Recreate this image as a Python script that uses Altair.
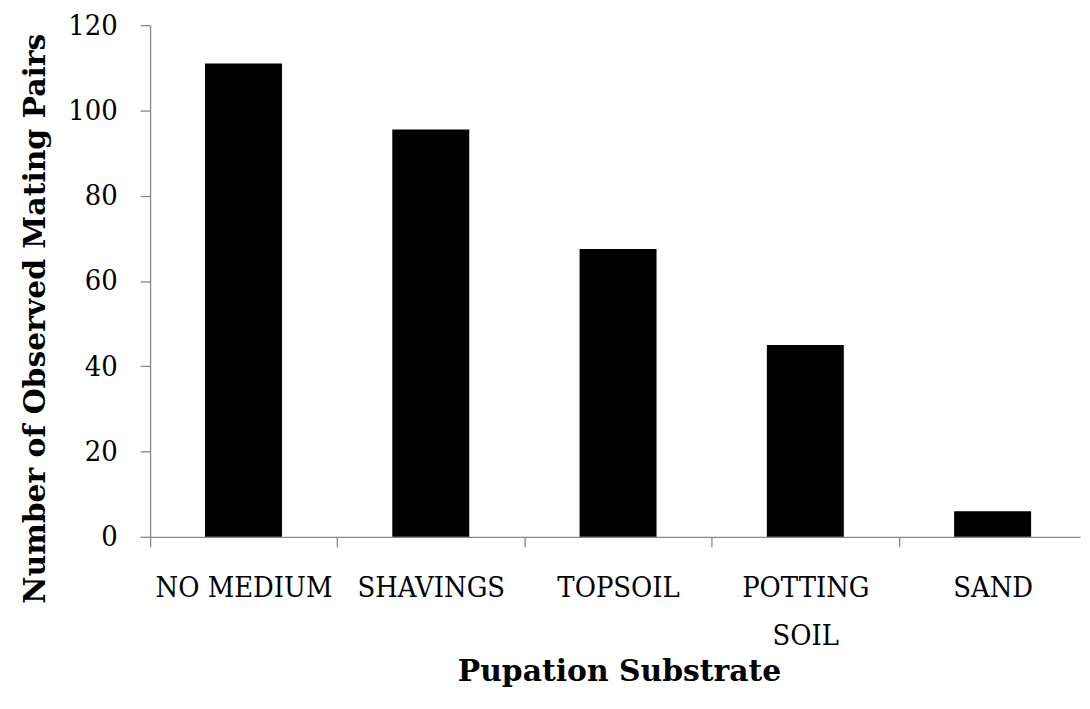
import altair as alt
import pandas as pd

categories = ["NO MEDIUM", "SHAVINGS", "TOPSOIL", "POTTING SOIL", "SAND"]
pairs = [111, 95.5, 67.5, 45, 6]
y_ticks = [0, 20, 40, 60, 80, 100, 120]

df = pd.DataFrame({"substrate": categories, "pairs": pairs})

FONT = "DejaVu Serif Condensed"
TITLE_FONT = "DejaVu Serif"
GRAY = "#868686"

# band layout: step ~188.5 px, bar ~77.5 px
P_INNER = 0.589
STEP = 188.5
HALF_GAP = P_INNER * STEP / 2

chart = (
    alt.Chart(df)
    .mark_bar(color="black")
    .encode(
        x=alt.X(
            "substrate:N",
            sort=categories,
            scale=alt.Scale(paddingInner=P_INNER, paddingOuter=0.2772, align=0.529),
            axis=alt.Axis(
                title="Pupation Substrate",
                labelAngle=0,
                bandPosition=0,
                tickOffset=-HALF_GAP,
                labelOffset=HALF_GAP,
                labelExpr="datum.label == 'POTTING SOIL' ? ['POTTING', 'SOIL'] : datum.label",
                labelLineHeight=48,
                labelPadding=27,
                labelOverlap=False,
                labelFont=FONT,
                labelFontSize=29,
                labelColor="black",
                tickSize=10,
                tickColor=GRAY,
                tickWidth=1.3,
                domainColor=GRAY,
                domainWidth=1.3,
                titleFont=TITLE_FONT,
                titleFontSize=30,
                titleFontWeight="bold",
                titleColor="black",
                titleBaseline="alphabetic",
                titleX=472,
                titleY=145,
            ),
        ),
        y=alt.Y(
            "pairs:Q",
            scale=alt.Scale(domain=[0, 120], nice=False),
            axis=alt.Axis(
                title="Number of Observed Mating Pairs",
                values=y_ticks,
                grid=False,
                labelPadding=23,
                labelFont=FONT,
                labelFontSize=29,
                labelColor="black",
                tickSize=10,
                tickColor=GRAY,
                tickWidth=1.3,
                domainColor=GRAY,
                domainWidth=1.3,
                titleFont=TITLE_FONT,
                titleFontSize=30,
                titleFontWeight="bold",
                titleColor="black",
                titleBaseline="alphabetic",
                titleAngle=270,
                titleX=-106,
                titleY=295,
            ),
        ),
    )
    .properties(
        width=936,
        height=515,
        autosize=alt.AutoSizeParams(type="none"),
        padding={"left": 143, "top": 15, "right": 2, "bottom": 160},
    )
    .configure_view(stroke=None)
)

chart.save("out.html", embed_options={"renderer": "svg", "actions": False})
